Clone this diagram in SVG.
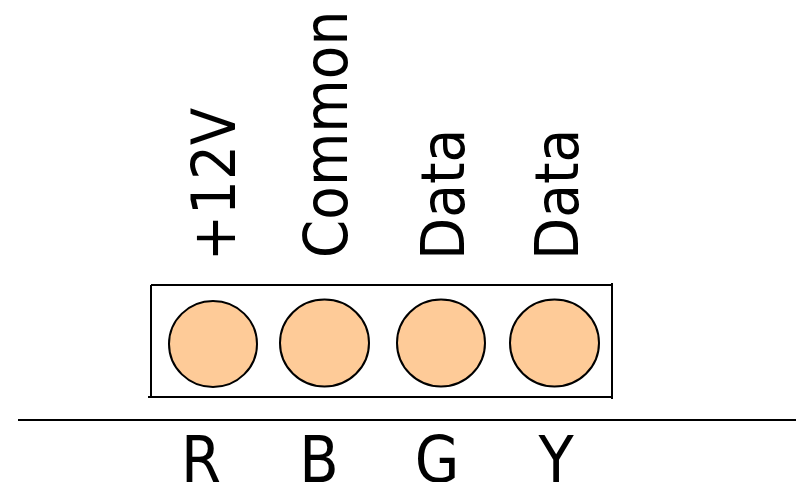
<svg xmlns="http://www.w3.org/2000/svg" width="802" height="482" viewBox="0 0 802 482">
<style>
.pin{fill:#FECB98;stroke:#000;stroke-width:2}
.lbl{font-family:"DejaVu Sans Condensed","DejaVu Sans",sans-serif;font-size:61px;fill:#000}
.col{font-family:"DejaVu Sans Condensed","DejaVu Sans",sans-serif;font-size:64px;fill:#000;text-anchor:middle}
.ln{stroke:#000;stroke-width:2;fill:none}
</style>
<rect width="802" height="482" fill="#fff"/>
<g id="connector-body">
<path class="ln" d="M151,285 H612 M151,285 V398 M148,397 H612 M612,283 V399"/>
</g>
<g id="pin-R"><ellipse class="pin" cx="213" cy="344" rx="44" ry="43"/></g>
<g id="pin-B"><ellipse class="pin" cx="324.5" cy="343" rx="44.5" ry="43.5"/></g>
<g id="pin-G"><ellipse class="pin" cx="441" cy="343" rx="44" ry="43.5"/></g>
<g id="pin-Y"><ellipse class="pin" cx="554.5" cy="343" rx="44.5" ry="43.5"/></g>
<g id="labels">
<text class="lbl" transform="translate(235,261) rotate(-90)">+12V</text>
<text class="lbl" transform="translate(347,258) rotate(-90)">Common</text>
<text class="lbl" transform="translate(464,260) rotate(-90)">Data</text>
<text class="lbl" transform="translate(578,260) rotate(-90)">Data</text>
</g>
<g id="connectors">
<line class="ln" x1="18" y1="420" x2="796" y2="420" stroke-width="1.6"/>
</g>
<g id="colors">
<text class="col" x="201" y="482">R</text>
<text class="col" x="319" y="482">B</text>
<text class="col" x="437" y="482">G</text>
<text class="col" x="556" y="482">Y</text>
</g>
</svg>
